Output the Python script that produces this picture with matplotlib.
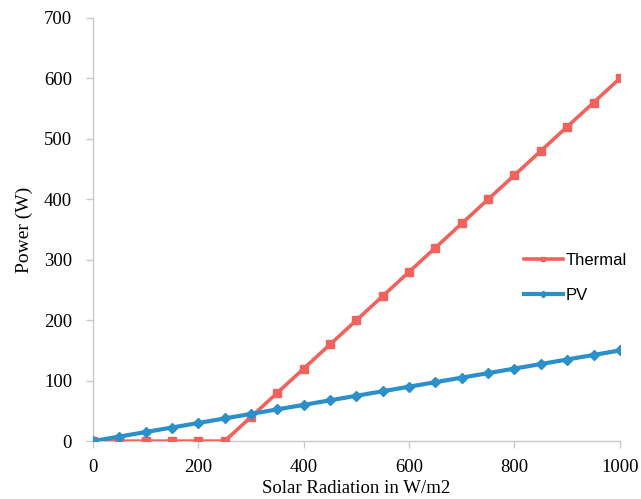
import matplotlib.pyplot as plt

radiation = [0, 50, 100, 150, 200, 250, 300, 350, 400, 450, 500,
             550, 600, 650, 700, 750, 800, 850, 900, 950, 1000]
thermal = [0, 0, 0, 0, 0, 0, 40, 80, 120, 160, 200,
           240, 280, 320, 360, 400, 440, 480, 520, 560, 600]
pv = [0, 7.5, 15, 22.5, 30, 37.5, 45, 52.5, 60, 67.5, 75,
      82.5, 90, 97.5, 105, 112.5, 120, 127.5, 135, 142.5, 150]

RED = "#F0625C"
BLUE = "#2B8FC9"

fig = plt.figure(figsize=(6.41, 4.99), dpi=100)
ax = fig.add_axes([0.145, 0.116, 0.822, 0.848])

ax.plot(radiation, thermal, color=RED, lw=2.6, marker="s", ms=5.5,
        label="Thermal", zorder=3)
ax.plot(radiation, pv, color=BLUE, lw=3, marker="D", ms=5.5,
        label="PV", zorder=4)

ax.set_xlim(0, 1000)
ax.set_ylim(0, 700)
ax.set_xticks(range(0, 1001, 200))
ax.set_yticks(range(0, 701, 100))

for side in ["top", "right"]:
    ax.spines[side].set_visible(False)
for side in ["left", "bottom"]:
    ax.spines[side].set_color("#C8C8C8")
    ax.spines[side].set_linewidth(1)
ax.tick_params(axis="both", colors="#C8C8C8", length=5, width=1,
               labelcolor="black", labelsize=13.5)
ax.tick_params(axis="x", pad=8)
ax.tick_params(axis="y", pad=10)
for lab in ax.get_xticklabels() + ax.get_yticklabels():
    lab.set_fontfamily("Liberation Serif")

ax.set_xlabel("Solar Radiation in W/m2", fontfamily="Liberation Serif",
              fontsize=13.5, labelpad=3)
ax.set_ylabel("Power (W)", fontfamily="Liberation Serif", fontsize=14,
              labelpad=8)

ax.legend(loc="upper left", bbox_to_anchor=(0.79, 0.48), frameon=False,
          prop={"family": "Liberation Sans", "size": 12},
          handlelength=2.3, handletextpad=0.2, labelspacing=1.2,
          markerscale=0.6)

fig.savefig("out.png", dpi=100)
